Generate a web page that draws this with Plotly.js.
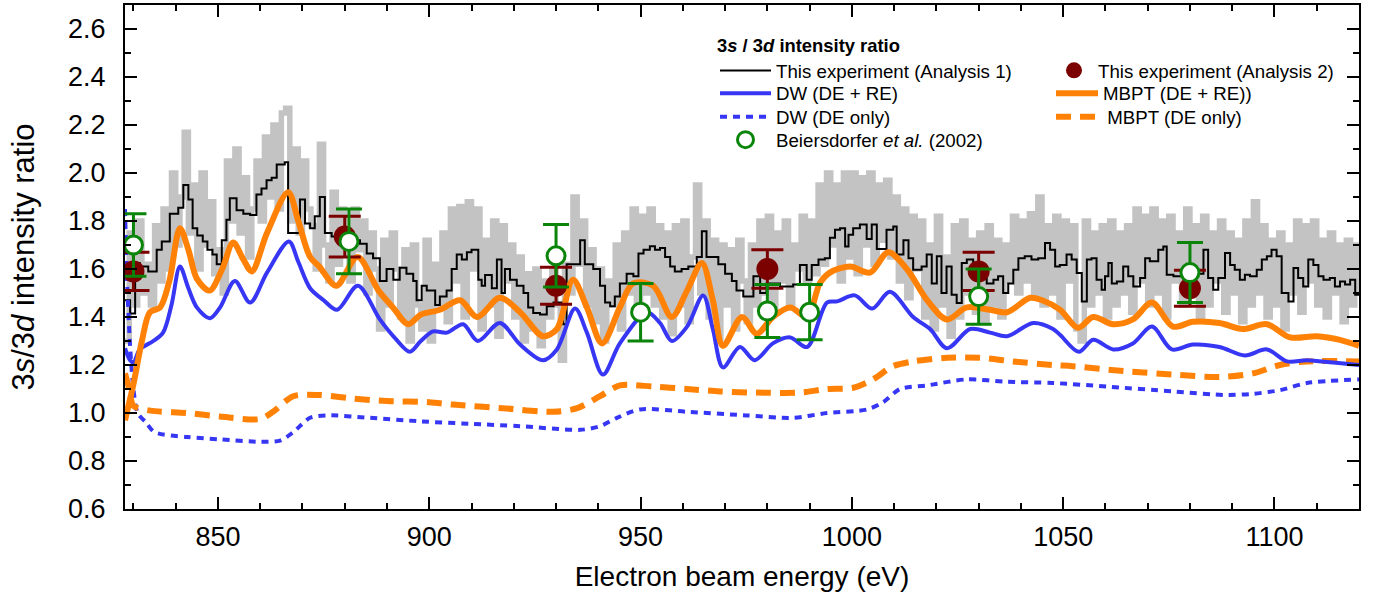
<!DOCTYPE html>
<html>
<head>
<meta charset="utf-8">
<script src="https://cdn.plot.ly/plotly-3.0.1.min.js"></script>
<style>
  html, body { margin: 0; padding: 0; background: #fff; }
  #chart { width: 1380px; height: 602px; }
</style>
</head>
<body>
<div id="chart"></div>
<script>
// ---------- Data ----------
// Grey thick step trace (fine-binned experiment), 1 eV bins starting at 828 eV
const grayStart = 828;
const grayStep = 1;
const grayVals = [
  1.30, 1.75, 1.45, 1.80, 1.50, 1.62, 1.45, 1.78, 1.55, 1.85,
  1.60, 2.00, 1.70, 1.90, 2.17, 1.75, 1.95, 1.60, 2.00, 1.70,
  1.88, 1.58, 1.68, 1.50, 2.05, 1.80, 2.10, 1.75, 1.98, 1.65,
  1.85, 2.05, 1.80, 2.15, 1.90, 2.20, 1.85, 2.25, 2.27, 1.80,
  2.10, 1.75, 2.05, 1.85, 1.78, 1.60, 2.12, 1.70, 1.55, 1.92,
  1.62, 1.85, 1.70, 1.55, 1.85, 1.68, 1.80, 1.50, 1.75, 1.60,
  1.35, 1.72, 1.45, 1.75, 1.60, 1.40, 1.68, 1.30, 1.70, 1.45,
  1.35, 1.72, 1.30, 1.62, 1.45, 1.75, 1.38, 1.85, 1.55, 1.86,
  1.40, 1.88, 1.60, 1.85, 1.35, 1.72, 1.45, 1.80, 1.32, 1.78,
  1.55, 1.70, 1.40, 1.65, 1.30, 1.58, 1.35, 1.60, 1.28, 1.55,
  1.40, 1.60, 1.45, 1.22, 1.62, 1.50, 1.90, 1.62, 1.80, 1.45,
  1.68, 1.38, 1.60, 1.30, 1.55, 1.45, 1.70, 1.35, 1.75, 1.50,
  1.85, 1.40, 1.82, 1.50, 1.85, 1.45, 1.78, 1.40, 1.75, 1.33,
  1.78, 1.45, 1.80, 1.38, 1.65, 1.95, 1.50, 1.80, 1.40, 1.72,
  1.30, 1.70, 1.45, 1.68, 1.35, 1.72, 1.55, 1.38, 1.70, 1.45,
  1.80, 1.50, 1.82, 1.42, 1.75, 1.55, 1.80, 1.45, 1.70, 1.60,
  1.82, 1.55, 1.80, 1.58, 1.95, 1.62, 2.00, 1.70, 1.95, 1.55,
  2.00, 1.65, 2.00, 1.58, 1.98, 1.70, 2.00, 1.62, 1.95, 1.72,
  1.97, 1.65, 1.90, 1.55, 1.85, 1.48, 1.82, 1.60, 1.80, 1.40,
  1.70, 1.35, 1.82, 1.45, 1.65, 1.32, 1.78, 1.40, 1.80, 1.50,
  1.72, 1.42, 1.75, 1.38, 1.78, 1.45, 1.72, 1.40, 1.70, 1.55,
  1.82, 1.50, 1.80, 1.55, 1.83, 1.48, 1.90, 1.45, 1.78, 1.50,
  1.82, 1.40, 1.80, 1.55, 1.78, 1.35, 1.30, 1.80, 1.45, 1.75,
  1.50, 1.78, 1.40, 1.80, 1.45, 1.75, 1.50, 1.78, 1.42, 1.85,
  1.55, 1.82, 1.45, 1.85, 1.50, 1.80, 1.40, 1.82, 1.55, 1.75,
  1.45, 1.85, 1.50, 1.78, 1.40, 1.82, 1.45, 1.75, 1.55, 1.80,
  1.42, 1.75, 1.50, 1.72, 1.38, 1.80, 1.45, 1.88, 1.50, 1.78,
  1.40, 1.72, 1.45, 1.75, 1.35, 1.70, 1.50, 1.80, 1.42, 1.78,
  1.55, 1.80, 1.45, 1.72, 1.40, 1.75, 1.50, 1.70, 1.38, 1.72,
  1.45, 1.70, 1.50
];

// This experiment (Analysis 1): step histogram (left bin edges, values)
const blackX = [
  828.0, 829.2, 830.4, 831.5, 833.5, 835.5, 836.7, 838.6, 840.6, 841.8,
  843.0, 844.0, 845.1, 846.4, 847.5, 848.7, 849.7, 850.9, 852.0, 852.8,
  854.4, 856.0, 857.6, 859.1, 860.3, 861.5, 862.7, 863.9, 865.8, 866.6,
  869.4, 870.6, 871.8, 872.9, 874.1, 875.3, 876.9, 878.5, 882.0, 883.6,
  885.2, 886.7, 888.3, 889.9, 891.5, 893.0, 894.6, 896.2, 897.0, 898.2,
  899.4, 901.4, 902.5, 904.1, 905.3, 906.5, 907.7, 908.9, 910.0, 911.6,
  912.4, 913.2, 914.8, 916.0, 917.1, 917.9, 919.1, 920.7, 922.3, 923.4,
  924.6, 926.2, 927.8, 929.4, 931.7, 932.5, 935.7, 936.8, 938.8, 940.4,
  941.6, 942.8, 943.9, 945.1, 946.7, 948.3, 949.5, 950.7, 952.2, 953.4,
  954.6, 955.8, 957.0, 958.1, 959.7, 961.3, 963.3, 964.5, 965.6, 968.4,
  970.0, 971.6, 972.7, 974.3, 976.7, 978.3, 979.8, 983.0, 986.1, 987.7,
  989.3, 990.5, 992.1, 993.6, 994.8, 996.0, 997.2, 998.4, 999.2, 1000.3,
  1001.9, 1003.5, 1004.7, 1005.9, 1008.2, 1009.8, 1010.6, 1012.2, 1013.4, 1014.5,
  1016.5, 1017.7, 1018.9, 1020.1, 1021.2, 1022.4, 1023.6, 1024.8, 1026.0, 1027.2,
  1028.7, 1031.9, 1033.5, 1034.6, 1035.8, 1037.0, 1038.2, 1039.4, 1040.9, 1042.5,
  1044.1, 1045.7, 1046.9, 1048.1, 1049.2, 1050.8, 1052.0, 1053.2, 1054.4, 1055.6,
  1056.7, 1057.9, 1059.1, 1059.9, 1060.7, 1061.5, 1062.7, 1064.2, 1065.4, 1066.6,
  1068.2, 1069.4, 1070.5, 1072.5, 1073.7, 1074.5, 1076.1, 1079.2, 1083.2, 1084.3,
  1085.5, 1086.7, 1088.3, 1089.5, 1090.6, 1091.8, 1093.0, 1094.2, 1095.8, 1097.0,
  1098.2, 1099.3, 1100.5, 1101.7, 1103.3, 1104.5, 1105.6, 1106.8, 1108.0, 1109.2,
  1110.4, 1111.6, 1113.1, 1114.3, 1115.5, 1116.7, 1117.9, 1119.1, 1120.0
];
const blackY = [
  1.47, 1.415, 1.625, 1.61, 1.59, 1.68, 1.715, 1.83, 1.855, 1.95,
  1.89, 1.77, 1.74, 1.715, 1.68, 1.66, 1.62, 1.72, 1.805, 1.895,
  1.845, 1.83, 1.825, 1.91, 1.935, 1.97, 1.98, 2.035, 2.045, 1.75,
  1.89, 1.79, 1.77, 1.82, 1.90, 1.75, 1.735, 1.755, 1.72, 1.705,
  1.665, 1.645, 1.55, 1.60, 1.555, 1.605, 1.58, 1.55, 1.47, 1.53,
  1.51, 1.45, 1.485, 1.51, 1.60, 1.66, 1.64, 1.67, 1.68, 1.555,
  1.53, 1.575, 1.52, 1.64, 1.50, 1.60, 1.555, 1.53, 1.50, 1.44,
  1.417, 1.41, 1.445, 1.46, 1.37, 1.62, 1.72, 1.62, 1.60, 1.53,
  1.46, 1.445, 1.485, 1.54, 1.58, 1.57, 1.665, 1.68, 1.695, 1.68,
  1.687, 1.65, 1.61, 1.59, 1.60, 1.61, 1.65, 1.757, 1.65, 1.62,
  1.58, 1.55, 1.51, 1.485, 1.57, 1.50, 1.54, 1.527, 1.535, 1.617,
  1.555, 1.617, 1.64, 1.645, 1.73, 1.764, 1.77, 1.694, 1.743, 1.77,
  1.785, 1.725, 1.785, 1.683, 1.764, 1.777, 1.66, 1.72, 1.645, 1.597,
  1.61, 1.66, 1.54, 1.653, 1.50, 1.61, 1.493, 1.458, 1.625, 1.64,
  1.576, 1.54, 1.555, 1.57, 1.50, 1.54, 1.597, 1.645, 1.653, 1.64,
  1.645, 1.708, 1.68, 1.61, 1.617, 1.66, 1.64, 1.583, 1.465, 1.64,
  1.645, 1.555, 1.514, 1.57, 1.625, 1.54, 1.548, 1.61, 1.57, 1.527,
  1.562, 1.645, 1.632, 1.68, 1.694, 1.576, 1.57, 1.58, 1.68, 1.562,
  1.514, 1.562, 1.667, 1.617, 1.597, 1.555, 1.576, 1.57, 1.597, 1.64,
  1.653, 1.68, 1.653, 1.50, 1.465, 1.604, 1.562, 1.527, 1.64, 1.617,
  1.57, 1.555, 1.562, 1.527, 1.548, 1.535, 1.555, 1.493, 1.493
];

// DW (DE + RE)
const dwX = [
  828, 829.2, 830, 831.5, 834.7, 837, 839, 841, 843, 845,
  848.1, 850.5, 854, 857.6, 861.6, 866.8, 869, 871.8, 875, 878.2,
  883.1, 888.3, 892, 895.4, 898, 900.9, 904.2, 908, 911.5, 916.7,
  921.5, 926.9, 930.2, 934.5, 937.3, 941.1, 945.1, 951.5, 954.6, 957.4,
  961, 964.8, 967.1, 969.5, 973.5, 977, 981.3, 985.4, 989.4, 994.1,
  996.5, 1000.7, 1004.8, 1009, 1014.5, 1018.5, 1022.5, 1028, 1032.7, 1036.7,
  1042.9, 1047.6, 1049.3, 1053.7, 1057.1, 1061.8, 1066.5, 1071, 1075.7, 1080.7,
  1087, 1093, 1098.2, 1103, 1107.7, 1113.9, 1120
];
const dwY = [
  1.27, 1.22, 1.21, 1.265, 1.30, 1.335, 1.45, 1.61, 1.52, 1.44,
  1.395, 1.44, 1.55, 1.46, 1.585, 1.715, 1.63, 1.52, 1.47, 1.43,
  1.53, 1.39, 1.31, 1.255, 1.30, 1.34, 1.335, 1.37, 1.30, 1.375,
  1.285, 1.22, 1.265, 1.435, 1.335, 1.16, 1.29, 1.42, 1.375, 1.30,
  1.36, 1.49, 1.35, 1.19, 1.275, 1.22, 1.29, 1.315, 1.275, 1.46,
  1.465, 1.49, 1.435, 1.505, 1.40, 1.35, 1.27, 1.35, 1.335, 1.32,
  1.375, 1.35, 1.325, 1.255, 1.305, 1.265, 1.29, 1.36, 1.265, 1.285,
  1.275, 1.24, 1.265, 1.215, 1.22, 1.21, 1.20
];

// DW (DE only)
const dwDeX = [
  828, 828.5, 829.2, 830, 831, 833, 835, 842.7, 850.5, 860,
  864.7, 867.8, 871.8, 875.8, 886, 898, 909.6, 921.5, 935.7, 940.4,
  944.4, 949.9, 961, 975, 986.1, 994.1, 1003.6, 1007.4, 1011.4, 1017.8,
  1027.2, 1036.7, 1047.6, 1060.4, 1076, 1088.8, 1094.9, 1101.3, 1107.7, 1120
];
const dwDeY = [
  1.85, 1.55, 1.28, 1.10, 1.00, 0.96, 0.92, 0.90, 0.89, 0.88,
  0.885, 0.92, 0.98, 0.99, 0.98, 0.965, 0.955, 0.945, 0.93, 0.945,
  0.98, 1.015, 1.005, 0.99, 0.98, 1.00, 1.015, 1.045, 1.10, 1.115,
  1.14, 1.13, 1.125, 1.11, 1.09, 1.075, 1.08, 1.095, 1.125, 1.14
];

// MBPT (DE + RE)
const mbptX = [
  828, 830, 832, 833.9, 836.3, 838.5, 841, 843, 845, 848,
  851, 853.6, 856, 858, 861.6, 866.6, 869, 871.8, 874, 878,
  883, 888, 891.4, 895, 898, 902.5, 907.3, 911.3, 916.7, 921.5,
  926.9, 930.2, 934, 937.3, 940.9, 945.1, 948.2, 953, 957.4, 961,
  964.5, 967.1, 969.5, 974, 977.5, 981.3, 985.4, 989.4, 992.4, 994.8,
  999.6, 1004.3, 1008.6, 1013, 1017.8, 1022.5, 1027.2, 1032.7, 1036.7, 1042.2,
  1045, 1049.3, 1053.5, 1057.1, 1061.8, 1066.5, 1071, 1076, 1080.7, 1087,
  1092.5, 1098.2, 1103.7, 1110, 1115.5, 1120
];
const mbptY = [
  0.97, 1.12, 1.30, 1.42, 1.44, 1.55, 1.77, 1.68, 1.56, 1.51,
  1.60, 1.71, 1.64, 1.59, 1.75, 1.92, 1.80, 1.65, 1.61, 1.53,
  1.65, 1.51, 1.44, 1.37, 1.41, 1.43, 1.47, 1.40, 1.48, 1.42,
  1.32, 1.35, 1.555, 1.44, 1.29, 1.44, 1.54, 1.53, 1.40, 1.51,
  1.625, 1.47, 1.28, 1.40, 1.33, 1.40, 1.44, 1.40, 1.54, 1.585,
  1.61, 1.585, 1.67, 1.60, 1.47, 1.39, 1.44, 1.43, 1.42, 1.48,
  1.47, 1.43, 1.355, 1.40, 1.37, 1.39, 1.46, 1.36, 1.38, 1.375,
  1.35, 1.37, 1.315, 1.32, 1.305, 1.28
];

// MBPT (DE only)
const mbptDeX = [
  828, 829, 830, 834, 842.7, 850.5, 860, 863, 867.8, 874,
  882, 890, 900, 905.6, 917.4, 929.3, 935, 940.4, 945.1, 953,
  961, 968.8, 977.5, 987.7, 994.1, 1000.3, 1005, 1009.7, 1014.5, 1022.5,
  1030.3, 1038.1, 1047.6, 1052.3, 1064.2, 1076, 1087, 1094.9, 1101.3, 1107.7,
  1120
];
const mbptDeY = [
  1.165, 1.10, 1.03, 1.01, 1.00, 0.985, 0.975, 1.005, 1.07, 1.075,
  1.06, 1.05, 1.045, 1.035, 1.02, 1.005, 1.02, 1.07, 1.115, 1.11,
  1.10, 1.09, 1.085, 1.085, 1.10, 1.105, 1.14, 1.195, 1.215, 1.23,
  1.23, 1.215, 1.20, 1.195, 1.175, 1.16, 1.15, 1.165, 1.20, 1.215,
  1.215
];

// This experiment (Analysis 2)
const a2X = [830, 880, 930, 980, 1030, 1080];
const a2Y = [1.59, 1.735, 1.53, 1.60, 1.59, 1.52];
const a2Err = [0.08, 0.085, 0.077, 0.08, 0.08, 0.075];

// Beiersdorfer et al. (2002)
const bX = [830, 881, 930, 950, 980, 990, 1030, 1080];
const bY = [1.70, 1.715, 1.655, 1.42, 1.425, 1.42, 1.485, 1.585];
const bErr = [0.13, 0.135, 0.13, 0.12, 0.11, 0.115, 0.115, 0.125];

// ---------- Styling ----------
const BLUE = '#3636f4';
const ORANGE = '#ff8207';
const DARKRED = '#7b0000';
const GREEN = '#0a850a';
const FONT = '"Liberation Sans", Arial, Helvetica, sans-serif';

const traces = [
  { type: 'scatter', mode: 'lines', x0: grayStart, dx: grayStep, y: grayVals,
    line: { color: '#c3c3c3', width: 5.5, shape: 'hv' }, showlegend: false, hoverinfo: 'skip' },
  { type: 'scatter', mode: 'lines', x: blackX, y: blackY, name: 'This experiment (Analysis 1)',
    line: { color: '#000000', width: 2, shape: 'hv' }, legend: 'legend' },
  { type: 'scatter', mode: 'lines', x: dwDeX, y: dwDeY, name: 'DW (DE only)',
    line: { color: BLUE, width: 4, dash: '7px,6px', shape: 'spline', smoothing: 0.8 }, legend: 'legend3' },
  { type: 'scatter', mode: 'lines', x: mbptDeX, y: mbptDeY, name: '\u00a0MBPT (DE only)',
    line: { color: ORANGE, width: 6, dash: '15px,9px', shape: 'spline', smoothing: 0.8 }, legend: 'legend7' },
  { type: 'scatter', mode: 'lines', x: dwX, y: dwY, name: 'DW (DE + RE)',
    line: { color: BLUE, width: 4, shape: 'spline', smoothing: 0.9 }, legend: 'legend2' },
  { type: 'scatter', mode: 'lines', x: mbptX, y: mbptY, name: 'MBPT (DE + RE))',
    line: { color: ORANGE, width: 6, shape: 'spline', smoothing: 0.9 }, legend: 'legend6' },
  { type: 'scatter', mode: 'markers', x: a2X, y: a2Y, name: 'This experiment (Analysis 2)',
    marker: { color: DARKRED, size: 22, symbol: 'circle' },
    error_y: { type: 'data', array: a2Err, visible: true, color: DARKRED, thickness: 3, width: 16 },
    legend: 'legend5' },
  { type: 'scatter', mode: 'markers', x: bX, y: bY, name: 'Beiersdorfer <i>et al.</i> (2002)',
    marker: { color: '#ffffff', size: 18, symbol: 'circle', line: { color: GREEN, width: 3 } },
    error_y: { type: 'data', array: bErr, visible: true, color: GREEN, thickness: 3, width: 13 },
    legend: 'legend4' }
];

// plot area in px: x 125..1359, y 5..509
const PX = px => (px - 125) / 1234;
const PY = py => (509 - py) / 504;
const legBase = { xanchor: 'left', bgcolor: 'rgba(0,0,0,0)', borderwidth: 0,
                  font: { family: FONT, size: 18.7, color: '#000' } };

const layout = {
  width: 1380, height: 602,
  margin: { l: 125, r: 21, t: 5, b: 93, pad: 0 },
  paper_bgcolor: '#ffffff', plot_bgcolor: '#ffffff',
  font: { family: FONT, color: '#000' },
  showlegend: true,
  xaxis: {
    range: [828, 1120], tick0: 850, dtick: 50,
    ticks: 'inside', ticklen: 12, tickwidth: 2, tickcolor: '#000',
    minor: { dtick: 10, ticks: 'inside', ticklen: 6, tickwidth: 2, tickcolor: '#000' },
    showline: true, linecolor: '#000', linewidth: 2, mirror: 'allticks',
    showgrid: false, zeroline: false,
    tickfont: { family: FONT, size: 27, color: '#000' }, ticklabelstandoff: 3,
    title: { text: 'Electron beam energy (eV)', font: { family: FONT, size: 28, color: '#000' }, standoff: 15 },
    automargin: false
  },
  yaxis: {
    range: [0.6, 2.7], tick0: 0.6, dtick: 0.2, tickformat: '.1f',
    ticks: 'inside', ticklen: 12, tickwidth: 2, tickcolor: '#000',
    minor: { dtick: 0.1, ticks: 'inside', ticklen: 6, tickwidth: 2, tickcolor: '#000' },
    showline: true, linecolor: '#000', linewidth: 2, mirror: 'allticks',
    showgrid: false, zeroline: false,
    tickfont: { family: FONT, size: 27, color: '#000' }, ticklabelstandoff: 12,
    title: { text: '\u00a0\u00a0\u00a03<i>s</i>/3<i>d</i> intensity ratio', font: { family: FONT, size: 31, color: '#000' }, standoff: 24 },
    automargin: false
  },
  legend: Object.assign({}, legBase, {
    x: PX(715), y: PY(28), yanchor: 'top', itemwidth: 51,
    title: { text: '<b>3<i>s</i> / 3<i>d</i> intensity ratio</b>', font: { family: FONT, size: 18.4, color: '#000' } }
  }),
  legend2: Object.assign({}, legBase, { x: PX(715), y: PY(93.5), yanchor: 'middle', itemwidth: 51 }),
  legend3: Object.assign({}, legBase, { x: PX(715), y: PY(117), yanchor: 'middle', itemwidth: 51 }),
  legend4: Object.assign({}, legBase, { x: PX(715), y: PY(140), yanchor: 'middle', itemwidth: 51 }),
  legend5: Object.assign({}, legBase, { x: PX(1050), y: PY(70.7), yanchor: 'middle', itemwidth: 38 }),
  legend6: Object.assign({}, legBase, { x: PX(1051), y: PY(93.5), yanchor: 'middle', itemwidth: 42 }),
  legend7: Object.assign({}, legBase, { x: PX(1051), y: PY(117), yanchor: 'middle', itemwidth: 41 })
};

Plotly.newPlot('chart', traces, layout, { displayModeBar: false, staticPlot: true });
</script>
</body>
</html>
